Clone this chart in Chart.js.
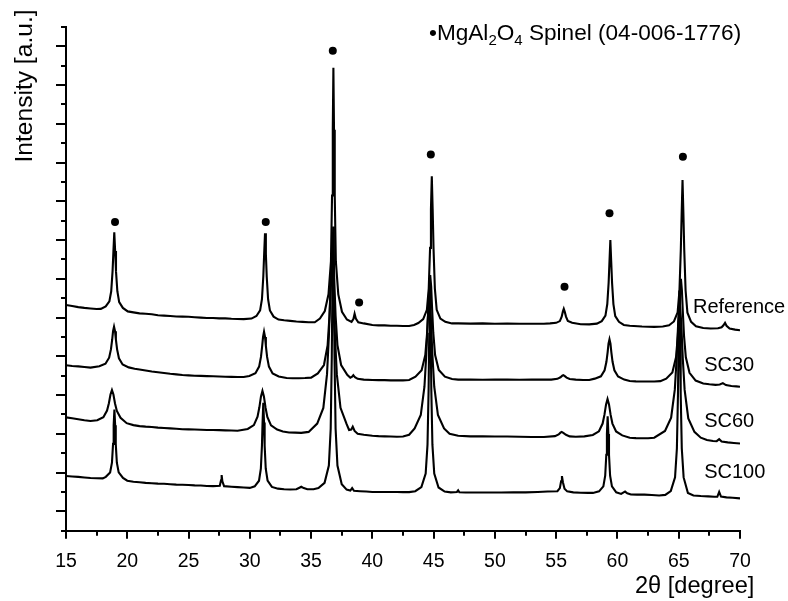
<!DOCTYPE html>
<html>
<head>
<meta charset="utf-8">
<title>XRD patterns</title>
<script src="https://cdn.jsdelivr.net/npm/chart.js@4/dist/chart.umd.min.js"></script>
<style>
  html, body { margin: 0; padding: 0; background: #fff; }
  canvas { display: block; }
</style>
</head>
<body>
<canvas id="xrdChart" width="788" height="601"></canvas>
<script>
// XRD - MgAl2O4 spinel, 4 amostras empilhadas (offset vertical)

const seriesNames = ['Reference', 'SC30', 'SC60', 'SC100'];

const xMajorTicks = [15, 20, 25, 30, 35, 40, 45, 50, 55, 60, 65, 70];
const xMinorTicks = [17.5, 22.5, 27.5, 32.5, 37.5, 42.5, 47.5, 52.5, 57.5, 62.5, 67.5];
const yMajorTicks = [1, 3, 5, 7, 9, 11, 13, 15, 17, 19, 21, 23, 25];
const yMinorTicks = [0, 2, 4, 6, 8, 10, 12, 14, 16, 18, 20, 22, 24, 26];

// pontos [2theta, intensidade]
const referenceData = [
  [15.0, 11.65], [15.5, 11.6], [16.0, 11.54], [16.5, 11.5], [17.0, 11.47], [17.5, 11.44], [17.84, 11.45],
  [18.24, 11.58], [18.54, 11.84], [18.69, 12.36], [18.8, 13.4], [18.87, 14.44], [18.94, 15.4], [19.01, 14.44],
  [19.08, 13.4], [19.19, 12.36], [19.34, 11.8], [19.64, 11.5], [20.04, 11.32], [20.5, 11.27], [21.0, 11.22],
  [21.5, 11.2], [22.0, 11.17], [22.5, 11.12], [23.0, 11.1], [23.5, 11.08], [24.0, 11.06], [24.5, 11.05],
  [25.0, 11.04], [25.5, 11.02], [26.0, 11.0], [26.5, 10.98], [27.0, 10.98], [27.5, 10.96], [28.0, 10.96],
  [28.5, 10.94], [29.0, 10.93], [29.5, 10.92], [30.14, 10.95], [30.54, 11.08], [30.84, 11.37], [30.99, 11.95],
  [31.1, 13.12], [31.17, 14.28], [31.24, 15.35], [31.31, 14.28], [31.38, 13.12], [31.49, 11.95], [31.64, 11.37],
  [31.94, 11.05], [32.34, 10.9], [32.8, 10.86], [33.3, 10.83], [33.8, 10.8], [34.3, 10.78], [34.8, 10.76],
  [35.3, 10.76], [35.72, 10.95], [36.12, 11.34], [36.42, 12.2], [36.62, 13.9], [36.71, 17.3], [36.77, 20.7],
  [36.82, 23.9], [36.87, 20.7], [36.93, 17.3], [37.02, 13.9], [37.22, 12.2], [37.52, 11.3], [37.92, 10.9],
  [38.3, 10.78], [38.45, 10.92], [38.55, 11.2], [38.65, 10.95], [38.85, 10.76], [39.3, 10.7], [40.0, 10.62],
  [40.5, 10.6], [41.0, 10.6], [41.5, 10.58], [42.0, 10.58], [42.5, 10.57], [43.0, 10.57], [43.4, 10.62],
  [43.75, 10.72], [44.15, 10.92], [44.45, 11.4], [44.6, 12.5], [44.71, 14.6], [44.78, 16.6], [44.85, 18.3],
  [44.92, 16.6], [44.99, 14.6], [45.1, 12.5], [45.25, 11.4], [45.55, 10.95], [45.95, 10.78], [46.5, 10.7],
  [47.0, 10.7], [48.0, 10.69], [49.0, 10.7], [50.0, 10.68], [51.0, 10.69], [52.0, 10.68], [53.0, 10.68],
  [54.0, 10.68], [54.5, 10.7], [55.0, 10.73], [55.3, 10.82], [55.45, 11.05], [55.55, 11.32], [55.62, 11.45],
  [55.7, 11.3], [55.8, 11.05], [55.95, 10.83], [56.3, 10.73], [57.0, 10.66], [57.7, 10.65], [58.32, 10.69],
  [58.72, 10.82], [59.02, 11.1], [59.17, 11.7], [59.28, 12.8], [59.35, 13.9], [59.42, 15.0], [59.49, 13.9],
  [59.56, 12.8], [59.67, 11.7], [59.82, 11.08], [60.12, 10.78], [60.52, 10.62], [61.0, 10.58], [62.0, 10.54],
  [63.0, 10.52], [63.7, 10.54], [64.21, 10.6], [64.61, 10.8], [64.91, 11.27], [65.06, 12.4], [65.17, 14.5],
  [65.24, 16.4], [65.31, 18.1], [65.38, 16.4], [65.45, 14.5], [65.56, 12.4], [65.71, 11.25], [66.01, 10.78],
  [66.41, 10.55], [67.0, 10.46], [67.6, 10.44], [68.2, 10.45], [68.5, 10.5], [68.65, 10.6], [68.78, 10.73],
  [68.9, 10.58], [69.15, 10.44], [69.6, 10.38], [70.0, 10.35]
];

const sc30Data = [
  [15.0, 8.54], [15.5, 8.5], [16.0, 8.48], [16.5, 8.45], [17.0, 8.42], [17.72, 8.49], [18.22, 8.62],
  [18.52, 8.93], [18.67, 9.37], [18.77, 9.87], [18.84, 10.3], [18.92, 10.53], [19.0, 10.3], [19.07, 9.87],
  [19.17, 9.36], [19.32, 8.9], [19.62, 8.58], [20.12, 8.43], [20.6, 8.36], [21.0, 8.32], [21.5, 8.27],
  [22.0, 8.22], [22.5, 8.18], [23.0, 8.14], [23.5, 8.1], [24.0, 8.07], [24.5, 8.04], [25.0, 8.02],
  [25.5, 8.0], [26.0, 7.99], [26.5, 7.98], [27.0, 7.97], [27.5, 7.96], [28.0, 7.95], [28.5, 7.94],
  [29.0, 7.93], [29.5, 7.93], [29.96, 7.99], [30.46, 8.13], [30.76, 8.47], [30.91, 8.97], [31.01, 9.54],
  [31.08, 10.0], [31.16, 10.27], [31.24, 10.0], [31.31, 9.54], [31.41, 8.97], [31.56, 8.47], [31.86, 8.12],
  [32.36, 7.96], [33.0, 7.88], [33.5, 7.87], [34.0, 7.87], [34.5, 7.88], [35.0, 7.9], [35.55, 8.12],
  [36.05, 8.55], [36.35, 9.58], [36.5, 11.08], [36.6, 12.78], [36.67, 14.2], [36.75, 15.0], [36.83, 14.2],
  [36.9, 12.78], [37.0, 11.08], [37.15, 9.58], [37.45, 8.55], [37.95, 8.05], [38.2, 7.9], [38.35, 7.95],
  [38.45, 8.03], [38.58, 7.92], [38.8, 7.84], [39.3, 7.8], [40.0, 7.78], [40.5, 7.77], [41.0, 7.77],
  [41.5, 7.76], [42.0, 7.76], [42.5, 7.76], [43.0, 7.78], [43.52, 7.95], [44.02, 8.28], [44.32, 9.07],
  [44.47, 10.22], [44.57, 11.52], [44.64, 12.6], [44.72, 13.2], [44.8, 12.6], [44.87, 11.52], [44.97, 10.22],
  [45.12, 9.07], [45.42, 8.3], [45.92, 7.95], [46.5, 7.83], [47.0, 7.8], [48.0, 7.8], [49.0, 7.79],
  [50.0, 7.8], [51.0, 7.8], [52.0, 7.79], [53.0, 7.8], [54.0, 7.8], [54.6, 7.8], [55.1, 7.84],
  [55.35, 7.92], [55.5, 8.0], [55.58, 8.03], [55.68, 7.99], [55.85, 7.9], [56.1, 7.83], [56.6, 7.8],
  [57.2, 7.78], [57.7, 7.78], [58.15, 7.85], [58.65, 7.97], [58.95, 8.28], [59.1, 8.72], [59.2, 9.22],
  [59.27, 9.65], [59.35, 9.88], [59.43, 9.65], [59.5, 9.22], [59.6, 8.72], [59.75, 8.28], [60.05, 7.96],
  [60.55, 7.8], [61.0, 7.73], [61.5, 7.71], [62.0, 7.7], [62.5, 7.7], [63.0, 7.7], [63.5, 7.72],
  [63.98, 7.85], [64.48, 8.17], [64.78, 8.95], [64.93, 10.07], [65.03, 11.35], [65.1, 12.4], [65.18, 13.0],
  [65.26, 12.4], [65.33, 11.35], [65.43, 10.07], [65.58, 8.95], [65.88, 8.15], [66.38, 7.75], [67.0, 7.6],
  [67.5, 7.56], [68.0, 7.53], [68.35, 7.55], [68.6, 7.62], [68.85, 7.52], [69.3, 7.47], [69.7, 7.45],
  [70.0, 7.43]
];

const sc60Data = [
  [15.0, 5.85], [15.5, 5.8], [16.0, 5.75], [16.5, 5.7], [17.0, 5.66], [17.55, 5.7], [18.05, 5.86],
  [18.35, 6.2], [18.5, 6.58], [18.63, 7.03], [18.75, 7.26], [18.87, 7.03], [19.0, 6.57], [19.15, 6.18],
  [19.45, 5.83], [19.95, 5.55], [20.5, 5.45], [21.0, 5.4], [21.5, 5.37], [22.0, 5.35], [22.5, 5.32],
  [23.0, 5.3], [23.5, 5.28], [24.0, 5.26], [24.5, 5.24], [25.0, 5.23], [25.5, 5.22], [26.0, 5.21],
  [26.5, 5.2], [27.0, 5.2], [27.5, 5.19], [28.0, 5.18], [28.5, 5.17], [29.0, 5.16], [29.83, 5.25],
  [30.33, 5.45], [30.63, 5.88], [30.78, 6.37], [30.91, 6.93], [31.03, 7.22], [31.15, 6.93], [31.28, 6.36],
  [31.43, 5.87], [31.73, 5.44], [32.23, 5.22], [32.7, 5.12], [33.2, 5.07], [33.7, 5.06], [34.2, 5.05],
  [34.8, 5.1], [35.5, 5.53], [36.0, 6.34], [36.3, 8.08], [36.45, 10.03], [36.58, 12.31], [36.7, 13.5],
  [36.82, 12.31], [36.95, 10.03], [37.1, 8.08], [37.4, 6.34], [37.9, 5.5], [38.1, 5.2], [38.28, 5.22],
  [38.4, 5.37], [38.55, 5.15], [38.8, 5.0], [39.3, 4.95], [40.0, 4.9], [40.5, 4.88], [41.0, 4.87],
  [41.5, 4.86], [42.0, 4.85], [42.5, 4.86], [43.0, 4.95], [43.45, 5.28], [43.95, 5.97], [44.25, 7.43],
  [44.4, 9.07], [44.53, 11.0], [44.65, 12.0], [44.77, 11.0], [44.9, 9.07], [45.05, 7.43], [45.35, 5.97],
  [45.85, 5.28], [46.3, 5.0], [47.0, 4.9], [48.0, 4.87], [49.0, 4.87], [50.0, 4.86], [51.0, 4.86],
  [52.0, 4.85], [53.0, 4.84], [54.0, 4.84], [54.9, 4.88], [55.2, 4.97], [55.35, 5.06], [55.45, 5.1],
  [55.58, 5.05], [55.8, 4.95], [56.1, 4.87], [56.6, 4.85], [57.3, 4.87], [57.99, 4.94], [58.49, 5.13],
  [58.79, 5.53], [58.94, 5.99], [59.07, 6.52], [59.19, 6.8], [59.31, 6.52], [59.44, 5.99], [59.59, 5.53],
  [59.89, 5.12], [60.39, 4.92], [61.0, 4.8], [61.5, 4.78], [62.0, 4.77], [62.5, 4.77], [63.0, 4.8],
  [63.88, 5.15], [64.38, 5.83], [64.68, 7.28], [64.83, 8.9], [64.96, 10.8], [65.08, 11.8], [65.2, 10.8],
  [65.33, 8.9], [65.48, 7.28], [65.78, 5.8], [66.28, 5.1], [66.8, 4.8], [67.3, 4.68], [67.8, 4.63],
  [68.1, 4.62], [68.3, 4.72], [68.5, 4.6], [69.0, 4.56], [69.5, 4.53], [70.0, 4.5]
];

const sc100Data = [
  [15.0, 2.82], [15.5, 2.8], [16.0, 2.78], [16.5, 2.75], [17.0, 2.72], [17.5, 2.71], [18.0, 2.7],
  [18.25, 2.78], [18.6, 3.01], [18.75, 3.51], [18.84, 4.48], [18.89, 5.44], [18.95, 6.26], [19.01, 5.44],
  [19.06, 4.48], [19.15, 3.51], [19.3, 3.01], [19.65, 2.72], [20.0, 2.58], [20.5, 2.53], [21.0, 2.5],
  [21.5, 2.47], [22.0, 2.45], [22.5, 2.43], [23.0, 2.42], [23.5, 2.4], [24.0, 2.38], [24.5, 2.37],
  [25.0, 2.36], [25.5, 2.34], [26.0, 2.33], [26.5, 2.31], [27.0, 2.3], [27.55, 2.32], [27.65, 2.6],
  [27.7, 2.87], [27.76, 2.55], [27.9, 2.3], [28.5, 2.27], [29.0, 2.25], [29.5, 2.23], [30.0, 2.21],
  [30.4, 2.29], [30.75, 2.58], [30.9, 3.2], [30.99, 4.39], [31.04, 5.58], [31.1, 6.6], [31.16, 5.58],
  [31.21, 4.39], [31.3, 3.2], [31.45, 2.58], [31.8, 2.26], [32.3, 2.17], [32.8, 2.14], [33.3, 2.13],
  [33.8, 2.14], [34.05, 2.22], [34.2, 2.27], [34.4, 2.2], [34.7, 2.14], [35.2, 2.14], [35.6, 2.2],
  [36.1, 2.47], [36.45, 3.36], [36.6, 5.26], [36.69, 9.0], [36.74, 12.58], [36.8, 15.7], [36.86, 12.58],
  [36.91, 9.0], [37.0, 5.26], [37.15, 3.36], [37.5, 2.4], [37.9, 2.12], [38.2, 2.07], [38.35, 2.2],
  [38.5, 2.06], [39.0, 2.04], [39.5, 2.02], [40.0, 2.0], [40.5, 2.0], [41.0, 2.0], [41.5, 2.0],
  [42.0, 2.0], [42.5, 1.99], [43.0, 1.99], [43.5, 2.04], [44.0, 2.25], [44.35, 2.95], [44.5, 4.44],
  [44.59, 7.3], [44.64, 10.16], [44.7, 12.6], [44.76, 10.16], [44.81, 7.3], [44.9, 4.44], [45.05, 2.95],
  [45.4, 2.23], [45.9, 2.02], [46.4, 1.98], [46.9, 2.0], [47.0, 2.08], [47.1, 1.98], [47.6, 1.97],
  [48.5, 1.97], [49.5, 1.97], [50.5, 1.97], [51.5, 1.98], [52.5, 1.98], [53.5, 2.0], [54.3, 2.02],
  [55.1, 2.04], [55.3, 2.2], [55.4, 2.55], [55.47, 2.82], [55.55, 2.5], [55.68, 2.17], [55.9, 2.03],
  [56.4, 1.98], [57.0, 1.96], [57.6, 1.95], [58.0, 1.95], [58.5, 2.03], [58.85, 2.29], [59.0, 2.84],
  [59.09, 3.92], [59.14, 4.99], [59.2, 5.9], [59.26, 4.99], [59.31, 3.92], [59.4, 2.84], [59.55, 2.29],
  [59.9, 1.98], [60.3, 1.9], [60.5, 1.98], [60.62, 2.02], [60.8, 1.93], [61.1, 1.87], [61.6, 1.86],
  [62.2, 1.86], [62.8, 1.84], [63.4, 1.82], [63.9, 1.85], [64.35, 2.05], [64.7, 2.75], [64.85, 4.24],
  [64.94, 7.1], [64.99, 9.96], [65.05, 12.4], [65.11, 9.96], [65.16, 7.1], [65.25, 4.24], [65.4, 2.75],
  [65.75, 1.95], [66.2, 1.82], [66.8, 1.79], [67.4, 1.77], [67.9, 1.75], [68.15, 1.75], [68.3, 2.0],
  [68.45, 1.76], [68.9, 1.72], [69.4, 1.7], [70.0, 1.67]
];

// marcadores do espinélio (•)
const markerX = [19.0, 31.3, 36.77, 38.92, 44.77, 55.68, 59.35, 65.34];
const markerY = [15.94, 15.94, 24.77, 11.78, 19.42, 12.59, 16.38, 19.3];

const FONT = "'Liberation Sans', Arial, sans-serif";

// posição dos rótulos das amostras (em coordenadas dos dados)
const labelAnchors = {
  'Reference': { x: 66.16, y: 11.25 },
  'SC30': { x: 67.08, y: 8.26 },
  'SC60': { x: 67.08, y: 5.34 },
  'SC100': { x: 67.08, y: 2.70 }
};

function toPoints(pairs) {
  return pairs.map(p => ({ x: p[0], y: p[1] }));
}

const traceStyle = {
  borderColor: '#000',
  borderWidth: 2.1,
  pointRadius: 0,
  tension: 0,
  fill: false,
  showLine: true
};

const decorPlugin = {
  id: 'decor',
  afterDraw(chart) {
    const ctx = chart.ctx;
    const xs = chart.scales.x;
    const ys = chart.scales.y;
    const area = chart.chartArea;

    ctx.save();
    ctx.strokeStyle = '#000';
    ctx.lineWidth = 2;

    // ticks do eixo x (para fora)
    xMajorTicks.forEach(v => {
      const px = Math.round(xs.getPixelForValue(v));
      ctx.beginPath(); ctx.moveTo(px, area.bottom); ctx.lineTo(px, area.bottom + 8); ctx.stroke();
    });
    xMinorTicks.forEach(v => {
      const px = Math.round(xs.getPixelForValue(v));
      ctx.beginPath(); ctx.moveTo(px, area.bottom); ctx.lineTo(px, area.bottom + 5); ctx.stroke();
    });
    // ticks do eixo y
    yMajorTicks.forEach(v => {
      const py = Math.round(ys.getPixelForValue(v));
      ctx.beginPath(); ctx.moveTo(area.left, py); ctx.lineTo(area.left - 10, py); ctx.stroke();
    });
    yMinorTicks.forEach(v => {
      const py = Math.round(ys.getPixelForValue(v));
      ctx.beginPath(); ctx.moveTo(area.left, py); ctx.lineTo(area.left - 5, py); ctx.stroke();
    });

    ctx.fillStyle = '#000';

    // rótulos das amostras
    ctx.font = '20px ' + FONT;
    ctx.textAlign = 'left';
    ctx.textBaseline = 'alphabetic';
    seriesNames.forEach(name => {
      const a = labelAnchors[name];
      ctx.fillText(name, xs.getPixelForValue(a.x), ys.getPixelForValue(a.y));
    });

    // legenda: •MgAl2O4 Spinel (04-006-1776)
    let lx = 429;
    const ly = 40;
    const parts = [
      { t: '\u2022MgAl', sub: false },
      { t: '2', sub: true },
      { t: 'O', sub: false },
      { t: '4', sub: true },
      { t: ' Spinel (04-006-1776)', sub: false }
    ];
    parts.forEach(p => {
      ctx.font = (p.sub ? '15px ' : '22.6px ') + FONT;
      ctx.fillText(p.t, lx, p.sub ? ly + 5 : ly);
      lx += ctx.measureText(p.t).width;
    });

    // título eixo x
    ctx.font = '23.6px ' + FONT;
    ctx.textAlign = 'left';
    ctx.fillText('2\u03B8 [degree]', 635, 593);

    // título eixo y
    ctx.font = '24.6px ' + FONT;
    ctx.translate(32, 86);
    ctx.rotate(-Math.PI / 2);
    ctx.textAlign = 'center';
    ctx.fillText('Intensity [a.u.]', 0, 0);

    ctx.restore();
  }
};

const config = {
  type: 'scatter',
  data: {
    datasets: [
      Object.assign({ label: seriesNames[0], data: toPoints(referenceData) }, traceStyle),
      Object.assign({ label: seriesNames[1], data: toPoints(sc30Data) }, traceStyle),
      Object.assign({ label: seriesNames[2], data: toPoints(sc60Data) }, traceStyle),
      Object.assign({ label: seriesNames[3], data: toPoints(sc100Data) }, traceStyle),
      {
        label: 'MgAl2O4',
        data: markerX.map((x, i) => ({ x: x, y: markerY[i] })),
        showLine: false,
        pointRadius: 4,
        pointBackgroundColor: '#000',
        pointBorderColor: '#000',
        pointBorderWidth: 0
      }
    ]
  },
  options: {
    responsive: false,
    animation: false,
    layout: { padding: { top: 27, right: 48, left: 0, bottom: 0 } },
    plugins: {
      legend: { display: false },
      tooltip: { enabled: false }
    },
    scales: {
      x: {
        type: 'linear',
        min: 15,
        max: 70,
        grid: { display: false, drawTicks: true, tickLength: 8 },
        border: { display: true, color: '#000', width: 2 },
        ticks: {
          stepSize: 5,
          maxRotation: 0,
          padding: 11,
          color: '#000',
          font: { family: FONT, size: 19.5 }
        },
        afterFit(scale) {
          scale.height = 70.3;
          scale.paddingLeft = 0;
          scale.paddingRight = 0;
        }
      },
      y: {
        type: 'linear',
        min: 0,
        max: 26,
        grid: { display: false },
        border: { display: true, color: '#000', width: 2 },
        ticks: { display: false },
        afterFit(scale) {
          scale.width = 66;
        }
      }
    }
  },
  plugins: [decorPlugin]
};

const chart = new Chart(document.getElementById('xrdChart'), config);
</script>
</body>
</html>
